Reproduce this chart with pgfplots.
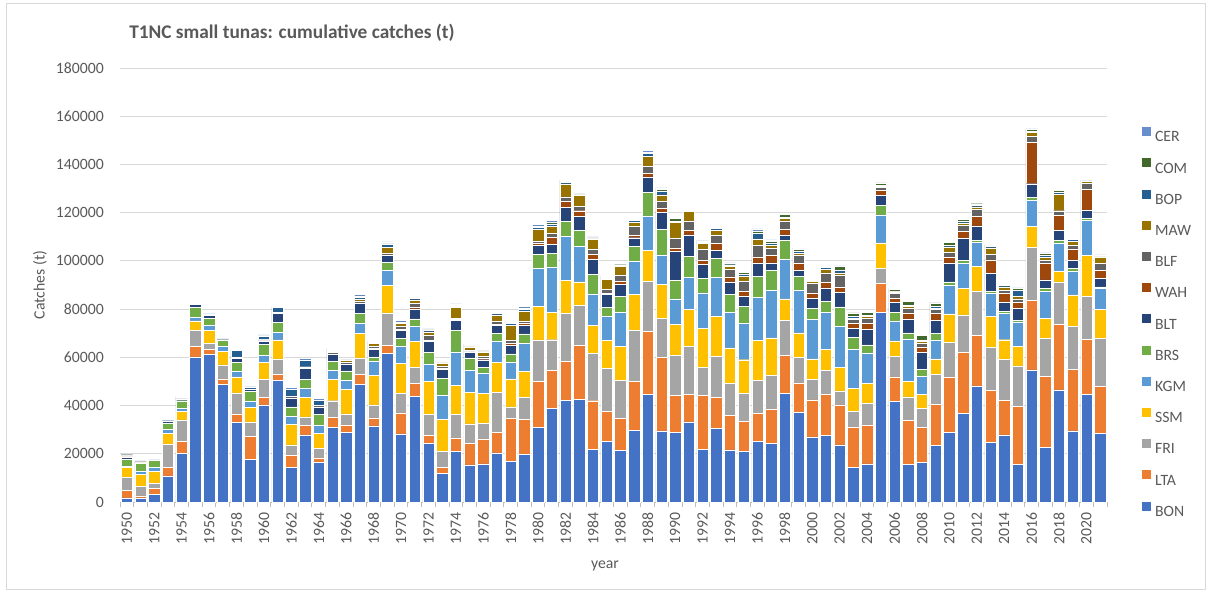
\documentclass[border=0pt]{standalone}
\usepackage{fontspec}
\setmainfont{Carlito}
\usepackage{pgfplots}
\pgfplotsset{compat=1.18}
\usepackage{pgfplotstable}
\definecolor{cBON}{HTML}{4472C4}
\definecolor{cLTA}{HTML}{ED7D31}
\definecolor{cFRI}{HTML}{A5A5A5}
\definecolor{cSSM}{HTML}{FFC000}
\definecolor{cKGM}{HTML}{5B9BD5}
\definecolor{cBRS}{HTML}{70AD47}
\definecolor{cBLT}{HTML}{264478}
\definecolor{cWAH}{HTML}{9E480E}
\definecolor{cBLF}{HTML}{636363}
\definecolor{cMAW}{HTML}{997300}
\definecolor{cBOP}{HTML}{255E91}
\definecolor{cCOM}{HTML}{43682B}
\definecolor{cCER}{HTML}{698ED0}
\definecolor{txt}{HTML}{595959}
\definecolor{gridc}{HTML}{D9D9D9}
\definecolor{axc}{HTML}{BFBFBF}

\pgfplotstableread{
year BON LTA FRI SSM KGM BRS BLT WAH BLF MAW BOP COM CER
1950 1700 3100 5400 4100 700 2700 900 100 400 100 300 100 300
1951 1700 800 4000 4900 1300 3500 300 0 200 0 200 0 200
1952 3300 2500 2000 4900 1600 2900 100 0 100 0 100 0 200
1953 10800 3500 9800 4300 1700 2700 900 0 300 0 300 0 300
1954 20100 5100 8900 3600 1100 3200 800 0 300 0 400 0 300
1955 60200 4200 6900 3800 1500 4100 1200 0 200 0 200 0 200
1956 61100 2100 2700 5300 2100 2900 1200 0 300 0 300 0 300
1957 48800 2300 5800 5700 1900 2700 100 0 100 0 100 0 200
1958 33100 3500 8700 6600 2400 3500 1800 0 600 0 2600 0 400
1959 17600 9700 5900 6100 2500 4000 900 0 200 0 900 0 300
1960 40300 3100 7400 7200 2800 4700 1300 0 400 300 1200 200 400
1961 50300 2500 6600 7800 3200 4000 3900 0 400 0 2000 0 300
1962 14400 5100 4200 8600 3300 3900 3700 0 800 0 2800 0 700
1963 27800 4100 3400 8100 3800 3800 4300 0 800 0 2800 0 700
1964 16600 1700 4000 6100 3300 4700 2800 0 1000 0 2000 0 700
1965 31000 4200 6800 9000 3700 3700 2800 0 800 500 500 400 300
1966 28800 3200 4600 10200 3500 4100 2900 0 800 600 200 300 300
1967 48900 4000 6900 10000 4300 4200 4100 0 1000 800 800 500 500
1968 31600 3300 5400 12100 6000 1800 3100 400 700 1500 400 200 400
1969 61500 3500 13400 11300 6500 3200 2900 200 500 2700 1400 300 500
1970 28300 8700 8200 12400 6800 3500 3200 500 1500 900 400 300 500
1971 43800 5500 6400 10800 6200 3200 4200 600 1700 1400 600 400 600
1972 24400 3300 8700 13700 7200 4900 4300 500 2300 1300 500 300 400
1973 12000 2500 6600 13200 10000 6900 3700 600 800 1400 300 300 400
1974 21100 5500 9700 12200 13800 8800 4100 400 600 4500 500 400 600
1975 15400 8800 8200 13000 9300 5100 2500 300 500 1200 400 300 500
1976 15800 10400 6300 12500 8300 2500 3200 500 1000 1800 400 300 400
1977 20400 8400 16800 12200 8800 3300 3400 600 900 2800 500 400 500
1978 17000 17600 4900 11600 6800 3500 3600 700 1200 6500 700 500 400
1979 19700 14600 9100 10900 11500 3900 3700 800 800 4000 900 600 600
1980 30900 19100 17200 14000 15600 5800 3900 700 1100 4900 800 500 500
1981 38800 15800 12700 11200 19000 5500 3900 2800 1700 3000 1000 800 700
1982 42200 16200 19900 13700 18200 6100 6000 2500 1800 5300 600 600 400
1983 42500 22600 16600 9600 14800 6500 6000 2200 1900 4700 400 300 200
1984 21900 20100 19600 11700 13000 8200 6200 2100 2200 4100 400 300 200
1985 25100 12600 17800 11400 10100 3600 5400 400 1800 4000 600 500 300
1986 21300 13500 15600 14100 14200 6600 5000 1100 2800 3600 300 300 200
1987 29600 20500 21200 14700 13700 6300 3600 1100 3700 1700 600 400 400
1988 44600 26200 20800 12700 14400 9600 6500 1600 2900 4100 1200 500 600
1989 29500 30500 16200 14000 12300 10700 7000 1700 2800 2700 1300 1000 600
1990 28800 15400 16600 13000 10400 7800 12000 1400 4000 6700 500 1100 400
1991 33200 11500 19700 15500 13200 8800 8900 1800 4000 3800 600 400 300
1992 21900 22400 11500 16200 14700 6200 5700 1700 4400 2500 600 500 300
1993 30500 13000 16900 16500 16300 7900 3300 2800 3300 2200 800 500 400
1994 21600 14400 13300 14600 14800 7300 5300 2100 3000 1400 600 500 300
1995 20900 12500 11800 13800 15000 7000 4300 2200 4100 2000 800 800 500
1996 25100 11600 13900 16400 18000 8500 5700 2500 4700 2700 2300 1000 900
1997 24200 14400 14000 15500 19800 8100 3200 3000 3200 1000 800 1000 500
1998 45000 15800 14400 9000 16400 7800 2400 2400 3400 1100 600 1000 500
1999 37100 12300 10600 10100 17700 5800 2500 3100 3200 800 700 800 600
2000 27000 15400 8600 8400 16400 4500 4200 2200 3900 1000 400 400 300
2001 27600 16900 10100 8600 15300 4600 5700 2300 3900 1400 800 600 400
2002 23700 16600 5800 9600 17200 8000 5900 2300 4800 1100 1000 1600 300
2003 14400 16800 6300 9700 16100 5000 3700 2200 1400 700 700 1400 300
2004 15800 16200 8900 8300 12600 3400 6400 2600 2100 700 500 1200 300
2005 78500 12200 6100 10700 11600 3800 4400 2100 1100 500 400 700 300
2006 41800 10100 8500 6400 8100 3600 4300 1800 1800 800 400 700 300
2007 15700 18100 9800 6400 17700 2400 5800 2500 1800 1000 600 1500 400
2008 16500 14400 7900 5800 7500 3000 6900 2300 1600 700 600 1900 400
2009 23400 17200 12400 6400 7600 2800 5500 2800 1700 600 600 1600 300
2010 28800 23100 14300 11800 11900 1400 7900 2500 1800 2300 600 1400 200
2011 36800 25200 15600 10900 10700 900 9300 2900 2400 1100 600 800 400
2012 48200 20900 18300 10200 10200 600 6100 3900 2900 1100 600 700 200
2013 24700 21600 17800 12800 9700 800 7500 5500 2200 2800 600 500 300
2014 27800 14300 17000 8200 11000 700 3800 3800 1200 1400 700 500 300
2015 15500 24100 16900 7900 10300 500 5000 2600 1400 1100 2500 700 300
2016 54800 28900 22000 8700 10800 1000 5800 17300 2200 1700 600 800 200
2017 22600 29600 15700 8300 11300 1000 3600 6800 1500 1100 700 800 300
2018 46500 27200 17600 4400 11800 900 4300 6300 1800 6900 600 800 300
2019 29500 25600 17800 13000 9800 1100 3500 4700 1600 1600 600 600 300
2020 44500 23100 17700 16900 14600 800 3500 8700 2500 700 200 100 100
2021 28400 19500 20100 11800 8700 700 3700 3200 2800 2800 300 200 300
}\data

\pgfplotsset{
  sqlegend/.style={legend image code/.code={\path[##1,draw=none] (0pt,0.3pt) rectangle (6.75pt,7.05pt);}},
  seg/.style={fill=#1, draw=white, line width=0.35pt, sqlegend},
}

\begin{document}
\begin{tikzpicture}[x=1pt,y=1pt]
\path (0,0) rectangle (907.5,444.75);
\draw[color=gridc, line width=0.75pt] (4.5,2.5) rectangle (904,441.75);
\begin{axis}[
  at={(90pt,68.25pt)}, anchor=south west,
  width=740.25pt, height=325.5pt, scale only axis,
  ybar stacked, bar width=0.83,
  xmin=1949.5, xmax=2021.5, ymin=0, ymax=180000,
  enlargelimits=false,
  ytick={0,20000,...,180000},
  xtick={1950,1952,...,2020},
  minor xtick={1949.5,1950.5,...,2021.5},
  scaled y ticks=false, scaled x ticks=false,
  /pgf/number format/.cd, fixed, precision=0, 1000 sep={}, assume math mode=true, /pgfplots/.cd,
  ymajorgrids, grid style={color=gridc, line width=0.75pt},
  extra y ticks={0}, extra y tick labels={},
  extra y tick style={grid style={color=axc, line width=0.75pt}},
  axis line style={draw=none},
  major tick length=0pt, minor tick length=3.75pt,
  xtick align=outside, xtick pos=bottom, ytick pos=left,
  tick style={color=axc, line width=0.75pt},
  tick label style={font=\fontsize{11.8}{14}\selectfont, text=txt},
  xticklabel style={rotate=90, anchor=east, inner sep=0pt},
  xticklabel shift=7.5pt,
  yticklabel style={anchor=east, inner sep=0pt},
  yticklabel shift=12pt,
  xlabel={year}, ylabel={Catches (t)},
  label style={font=\fontsize{11.8}{14}\selectfont, text=txt},
  xlabel style={at={(axis description cs:0.4914,-0.147)}, anchor=center},
  ylabel style={at={(axis description cs:-0.081,0.5)}, anchor=center},
  reverse legend,
  legend cell align=left,
  legend style={at={(axis description cs:1.0355,0.8636)}, anchor=north west,
    draw=none, fill=none, inner sep=0pt, outer sep=0pt, row sep=12.35pt,
    font=\fontsize{11.8}{14}\selectfont, text=txt,
    nodes={inner xsep=3pt, inner ysep=0pt, text height=8pt, text depth=0pt}},
]
\addplot[seg=cBON] table[x=year,y=BON]{\data};
\addplot[seg=cLTA] table[x=year,y=LTA]{\data};
\addplot[seg=cFRI] table[x=year,y=FRI]{\data};
\addplot[seg=cSSM] table[x=year,y=SSM]{\data};
\addplot[seg=cKGM] table[x=year,y=KGM]{\data};
\addplot[seg=cBRS] table[x=year,y=BRS]{\data};
\addplot[seg=cBLT] table[x=year,y=BLT]{\data};
\addplot[seg=cWAH] table[x=year,y=WAH]{\data};
\addplot[seg=cBLF] table[x=year,y=BLF]{\data};
\addplot[seg=cMAW] table[x=year,y=MAW]{\data};
\addplot[seg=cBOP] table[x=year,y=BOP]{\data};
\addplot[seg=cCOM] table[x=year,y=COM]{\data};
\addplot[seg=cCER] table[x=year,y=CER]{\data};
\legend{BON,LTA,FRI,SSM,KGM,BRS,BLT,WAH,BLF,MAW,BOP,COM,CER}
\end{axis}
\node[anchor=west, inner sep=0pt, text=txt, font=\bfseries\fontsize{14.5}{17}\selectfont] at (96.75,420) {T1NC small tunas: cumulative catches (t)};
\end{tikzpicture}
\end{document}
